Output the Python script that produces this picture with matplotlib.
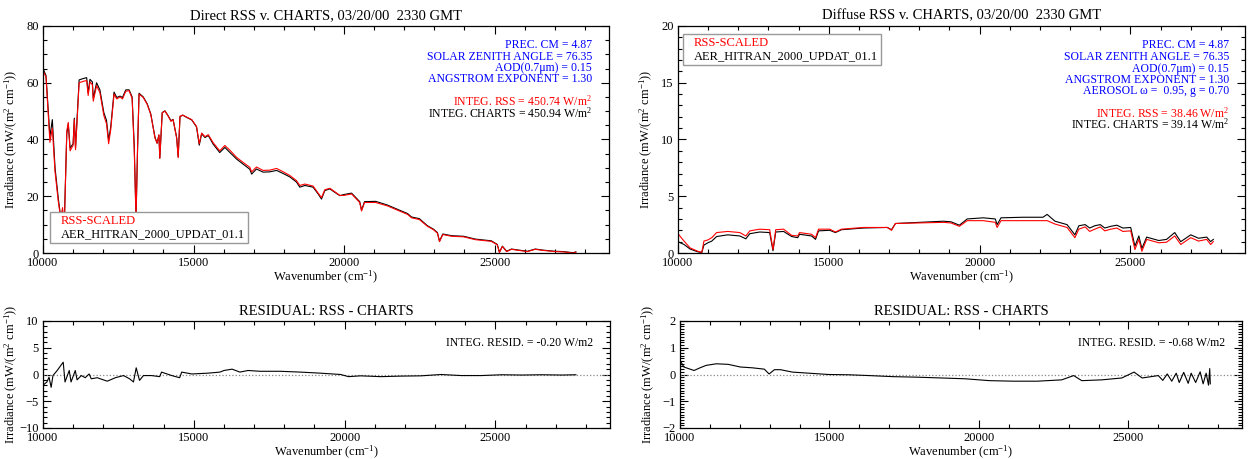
import matplotlib
matplotlib.use("Agg")
import matplotlib.pyplot as plt
from matplotlib.lines import Line2D
from matplotlib.ticker import MultipleLocator

plt.rcParams["font.family"] = ["Liberation Serif", "DejaVu Serif"]
plt.rcParams["mathtext.fontset"] = "custom"
plt.rcParams["mathtext.rm"] = "Liberation Serif"
plt.rcParams["mathtext.it"] = "Liberation Serif:italic"

# ---- direct beam spectra (mW/(m^2 cm^-1)) ----
wn_direct = [
    10000, 10100, 10230, 10310, 10400, 10510, 10590, 10650, 10700, 10790,
    10840, 10900, 11000, 11040, 11080, 11200, 11340, 11450, 11500, 11560,
    11640, 11670, 11780, 11890, 12020, 12110, 12180, 12250, 12360, 12450,
    12560, 12640, 12750, 12860, 12960, 13030, 13090, 13140, 13190, 13330,
    13460, 13580, 13720, 13790, 13850, 13880, 13960, 14050, 14160, 14250,
    14320, 14440, 14490, 14550, 14640, 14770, 14940, 15100, 15190, 15270,
    15380, 15490, 15650, 15870, 16040, 16210, 16430, 16650, 16870, 16930,
    17090, 17310, 17530, 17760, 17980, 18200, 18420, 18530, 18700, 18970,
    19140, 19250, 19360, 19530, 19690, 19860, 19990, 20250, 20520, 20580,
    20680, 21050, 21440, 21840, 22110, 22240, 22500, 22770, 22970, 23100,
    23170, 23280, 23570, 23970, 24360, 24890, 25090, 25160, 25260, 25400,
    25560, 25820, 26090, 26350, 26620, 27010, 27280, 27610, 27700,
]
rss_direct = [
    64.3, 62.0, 39.0, 44.0, 28.6, 18.0, 12.0, 16.0, 6.0, 43.0,
    46.0, 36.0, 38.0, 47.0, 36.4, 60.0, 60.5, 60.8, 55.5, 60.3,
    59.3, 53.5, 59.0, 56.5, 48.5, 45.5, 38.5, 43.5, 56.0, 54.3,
    55.0, 54.3, 57.0, 57.2, 54.5, 36.5, 11.9, 37.0, 56.0, 54.8,
    52.4, 48.8, 40.5, 38.7, 41.7, 33.3, 49.4, 50.0, 48.2, 46.4,
    47.0, 40.5, 33.6, 48.2, 48.6, 47.9, 47.0, 44.6, 38.5, 42.3,
    41.0, 41.7, 38.9, 36.0, 37.9, 36.2, 33.7, 31.9, 30.2, 28.6,
    30.3, 29.1, 29.2, 29.8, 28.6, 27.3, 25.5, 23.8, 24.3, 23.6,
    21.1, 19.5, 22.3, 22.8, 21.6, 20.3, 20.3, 20.8, 17.8, 14.8,
    17.8, 17.8, 16.6, 14.8, 13.6, 12.4, 11.8, 9.4, 8.2, 7.0,
    4.0, 6.5, 5.9, 5.7, 4.7, 4.1, 2.9, 0.2, 2.3, 0.5,
    1.3, 0.9, 0.5, 1.3, 0.9, 0.5, 0.4, 0.0, 0.3,
]
charts_direct = [
    65.0, 62.5, 41.0, 47.0, 30.0, 19.0, 12.5, 15.0, 8.0, 42.0,
    45.5, 37.0, 38.5, 47.5, 37.0, 61.0, 61.5, 61.8, 56.5, 61.2,
    60.3, 54.5, 60.0, 57.5, 49.5, 46.7, 39.8, 44.5, 56.7, 54.8,
    55.3, 54.8, 57.5, 57.5, 55.0, 38.0, 12.5, 36.0, 56.3, 55.0,
    52.6, 49.0, 40.8, 38.7, 41.5, 33.5, 49.5, 50.1, 48.3, 46.6,
    47.1, 40.7, 33.9, 48.0, 48.6, 47.8, 46.9, 44.4, 38.0, 42.0,
    40.7, 41.4, 38.4, 35.4, 37.2, 35.4, 33.1, 31.3, 29.5, 27.8,
    29.6, 28.5, 28.6, 29.1, 28.0, 26.8, 25.0, 23.2, 23.8, 23.2,
    20.8, 19.0, 22.0, 22.6, 21.4, 20.2, 20.6, 21.1, 18.1, 15.1,
    18.1, 18.2, 16.9, 15.1, 13.9, 12.7, 12.1, 9.6, 8.4, 7.2,
    4.2, 6.7, 6.1, 5.9, 4.9, 4.3, 3.0, 0.3, 2.4, 0.6,
    1.4, 1.0, 0.6, 1.4, 1.0, 0.6, 0.5, 0.1, 0.4,
]

# ---- diffuse spectra ----
wn_diffuse = [
    10000, 10200, 10400, 10660, 10790, 10860, 10990, 11120, 11280, 11650,
    12050, 12250, 12380, 12710, 13040, 13150, 13240, 13500, 13770, 13970,
    14030, 14430, 14560, 14660, 15030, 15220, 15420, 16150, 16940, 17080,
    17210, 18000, 18800, 19050, 19330, 19590, 20120, 20520, 20580, 20710,
    21440, 22100, 22240, 22500, 22900, 23160, 23290, 23500, 23650, 23820,
    24000, 24150, 24350, 24550, 24750, 25010, 25150, 25280, 25380, 25540,
    25940, 26200, 26470, 26670, 27000, 27260, 27530, 27660, 27750,
]
rss_diffuse = [
    1.70, 1.05, 0.45, 0.15, 0.06, 1.05, 1.15, 1.35, 1.80, 1.90,
    1.80, 1.50, 1.95, 2.10, 2.05, 0.30, 2.05, 2.10, 1.55, 1.50,
    1.80, 1.65, 1.35, 2.10, 2.10, 1.85, 2.10, 2.25, 2.25, 2.00,
    2.60, 2.65, 2.70, 2.65, 2.35, 2.85, 2.85, 2.70, 2.25, 2.85,
    2.85, 2.85, 2.85, 2.55, 2.25, 1.35, 2.10, 2.30, 1.90, 2.10,
    2.30, 1.95, 2.10, 2.20, 1.90, 1.95, 0.30, 1.20, 0.15, 1.20,
    0.90, 0.95, 1.50, 0.75, 1.35, 1.05, 1.20, 0.75, 1.00,
]
charts_diffuse = [
    1.00, 0.75, 0.35, 0.10, 0.05, 0.70, 0.90, 1.05, 1.45, 1.60,
    1.50, 1.25, 1.70, 1.85, 1.80, 0.20, 1.85, 1.90, 1.45, 1.35,
    1.65, 1.50, 1.20, 1.95, 2.00, 1.80, 2.05, 2.20, 2.25, 2.05,
    2.60, 2.70, 2.80, 2.75, 2.45, 3.00, 3.10, 3.00, 2.50, 3.10,
    3.15, 3.15, 3.40, 2.80, 2.50, 1.60, 2.40, 2.50, 2.20, 2.40,
    2.50, 2.20, 2.35, 2.45, 2.20, 2.25, 0.60, 1.50, 0.40, 1.40,
    1.10, 1.20, 1.80, 1.00, 1.60, 1.30, 1.40, 1.00, 1.20,
]

# ---- residuals RSS - CHARTS ----
wn_resid_direct = [
    10000, 10130, 10200, 10270, 10330, 10470, 10670, 10730, 10870, 10930,
    11070, 11130, 11270, 11400, 11530, 11600, 11800, 12000, 12130, 12400,
    12670, 12870, 13000, 13090, 13200, 13330, 13600, 13870, 13930, 14270,
    14530, 14600, 14930, 15470, 15870, 16000, 16270, 16530, 16800, 17200,
    17870, 18530, 19200, 19870, 20130, 20530, 21200, 21870, 22530, 23200,
    23870, 24530, 25200, 25870, 26530, 27200, 27670,
]
resid_direct = [
    -2.0, -1.4, -0.5, -2.4, -0.2, 0.75, 2.3, -1.4, 0.75, -1.4,
    0.75, -1.0, -0.2, -0.6, 0.1, -0.8, -0.6, -1.0, -1.25, -0.6,
    -0.2, -0.8, -1.4, 1.25, -1.1, -0.2, -0.2, -0.4, 0.45, -0.2,
    -0.6, 0.45, 0.1, 0.25, 0.45, 0.75, 1.0, 0.45, 0.75, 0.6,
    0.6, 0.45, 0.25, 0.0, -0.4, -0.25, -0.4, -0.3, -0.25, 0.0,
    -0.2, -0.2, -0.05, -0.1, -0.05, -0.1, -0.05,
]
wn_resid_diffuse = [
    10000, 10130, 10470, 10670, 10870, 11210, 11610, 12020, 12420, 12820,
    12980, 13160, 13360, 13760, 14300, 14970, 15640, 16320, 17120, 17930,
    18740, 19540, 20350, 21160, 21960, 22770, 23170, 23440, 24110, 24780,
    25190, 25460, 26000, 26150, 26300, 26450, 26600, 26700, 26850, 27000,
    27100, 27250, 27400, 27500, 27600, 27680, 27720, 27740,
]
resid_diffuse = [
    0.53, 0.28, 0.15, 0.25, 0.34, 0.40, 0.38, 0.28, 0.25, 0.20,
    0.02, 0.18, 0.18, 0.09, 0.05, 0.00, -0.01, -0.04, -0.08, -0.10,
    -0.13, -0.16, -0.23, -0.25, -0.25, -0.20, -0.04, -0.23, -0.20, -0.13,
    0.09, -0.13, -0.04, -0.22, 0.02, -0.25, 0.05, -0.30, 0.08, -0.33,
    0.05, -0.30, 0.10, -0.35, 0.05, -0.40, 0.22, -0.35,
]

RED = "#ff0000"
BLUE = "#0000ff"
YLABEL = r"Irradiance (mW/(m$^2$ cm$^{-1}$))"
XLABEL = r"Wavenumber (cm$^{-1}$)"
W, H = 1250, 459

fig = plt.figure(figsize=(W / 100, H / 100), dpi=100)


def box(x0, y0, x1, y1):
    return [x0 / W, 1 - y1 / H, (x1 - x0) / W, (y1 - y0) / H]


ax_dir = fig.add_axes(box(43, 26, 609, 253))
ax_dif = fig.add_axes(box(678, 26, 1245, 253))
ax_rdir = fig.add_axes(box(43, 321, 610, 428))
ax_rdif = fig.add_axes(box(680, 321, 1242, 428))


def style(ax, ylim, ymaj, ymin, xlab_y, ylab_x):
    ax.set_xlim(10000, 28800)
    ax.set_ylim(*ylim)
    ax.xaxis.set_major_locator(MultipleLocator(5000))
    ax.xaxis.set_minor_locator(MultipleLocator(1000))
    ax.yaxis.set_major_locator(MultipleLocator(ymaj))
    ax.yaxis.set_minor_locator(MultipleLocator(ymin))
    ax.tick_params(which="both", direction="in", top=True, right=True,
                   labelsize=9, width=0.8)
    ax.tick_params(axis="x", pad=3)
    ax.tick_params(axis="y", pad=3)
    ax.tick_params(which="major", length=6)
    ax.tick_params(which="minor", length=3)
    for s in ax.spines.values():
        s.set_linewidth(0.9)
    ax.set_xlabel(XLABEL, fontsize=9)
    ax.set_ylabel(YLABEL, fontsize=9)
    ax.xaxis.set_label_coords(0.5, xlab_y)
    ax.yaxis.set_label_coords(ylab_x, 0.5)


def legend(ax, anchor, loc):
    handles = [Line2D([], [], color=RED), Line2D([], [], color="black")]
    leg = ax.legend(handles, ["RSS-SCALED", "AER_HITRAN_2000_UPDAT_01.1"],
                    loc=loc, bbox_to_anchor=anchor, borderaxespad=0,
                    handlelength=0, handletextpad=0.6, fontsize=9,
                    frameon=True, fancybox=False, edgecolor="#999999",
                    framealpha=1, borderpad=0.25, labelspacing=0.1)
    for txt, c in zip(leg.get_texts(), [RED, "black"]):
        txt.set_color(c)
    for h in leg.legend_handles:
        h.set_visible(False)


def notes(ax, lines, x=0.97):
    for y, text, color in lines:
        ax.text(x, y, text, transform=ax.transAxes, ha="right", va="center",
                fontsize=8.5, color=color)


# Direct panel
ax = ax_dir
ax.plot(wn_direct, charts_direct, color="black", lw=0.8)
ax.plot(wn_direct, rss_direct, color=RED, lw=0.8)
style(ax, (0, 80), 20, 5, -0.072, -0.041)
ax.set_title("Direct RSS v. CHARTS, 03/20/00  2330 GMT", fontsize=10.5, pad=5)
legend(ax, (0.012, 0.044), "lower left")
notes(ax, [
    (0.916, "PREC. CM = 4.87", BLUE),
    (0.863, "SOLAR ZENITH ANGLE = 76.35", BLUE),
    (0.815, "AOD(0.7\u03bcm) = 0.15", BLUE),
    (0.767, "ANGSTROM EXPONENT = 1.30", BLUE),
    (0.670, "INTEG. RSS = 450.74 W/m$^2$", RED),
    (0.617, "INTEG. CHARTS = 450.94 W/m$^2$", "black"),
])

# Diffuse panel
ax = ax_dif
ax.plot(wn_diffuse, charts_diffuse, color="black", lw=0.8)
ax.plot(wn_diffuse, rss_diffuse, color=RED, lw=0.8)
style(ax, (0, 20), 5, 1, -0.072, -0.041)
ax.set_title("Diffuse RSS v. CHARTS, 03/20/00  2330 GMT", fontsize=10.5, pad=5)
legend(ax, (0.009, 0.965), "upper left")
notes(ax, [
    (0.916, "PREC. CM = 4.87", BLUE),
    (0.863, "SOLAR ZENITH ANGLE = 76.35", BLUE),
    (0.811, "AOD(0.7\u03bcm) = 0.15", BLUE),
    (0.762, "ANGSTROM EXPONENT = 1.30", BLUE),
    (0.714, "AEROSOL \u03c9 =  0.95, g = 0.70", BLUE),
    (0.617, "INTEG. RSS = 38.46 W/m$^2$", RED),
    (0.568, "INTEG. CHARTS = 39.14 W/m$^2$", "black"),
], x=0.972)

# Residual panels
ax = ax_rdir
ax.axhline(0, color="#888888", ls=":", lw=0.9)
ax.plot(wn_resid_direct, resid_direct, color="black", lw=0.8)
style(ax, (-10, 10), 5, 1, -0.148, -0.041)
ax.set_title("RESIDUAL: RSS - CHARTS", fontsize=10.5, pad=4)
notes(ax, [(0.794, "INTEG. RESID. = -0.20 W/m2", "black")])

ax = ax_rdif
ax.axhline(0, color="#888888", ls=":", lw=0.9)
ax.plot(wn_resid_diffuse, resid_diffuse, color="black", lw=0.8)
style(ax, (-2, 2), 1, 0.1, -0.148, -0.041)
ax.set_title("RESIDUAL: RSS - CHARTS", fontsize=10.5, pad=4)
notes(ax, [(0.794, "INTEG. RESID. = -0.68 W/m2", "black")])

fig.savefig("out.png", dpi=100, facecolor="white")
